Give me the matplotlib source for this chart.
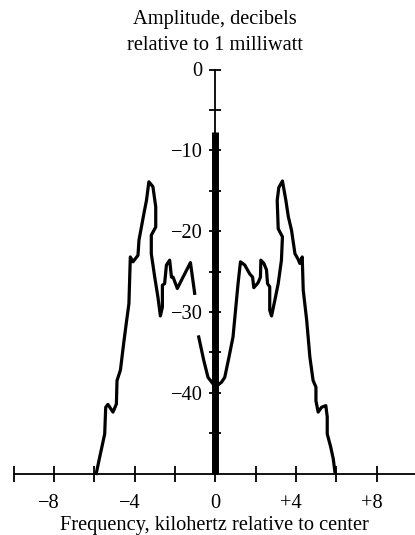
import matplotlib
matplotlib.use("Agg")
import matplotlib.pyplot as plt
import matplotlib.transforms as mtransforms

plt.rcParams['font.family'] = ['Liberation Serif', 'DejaVu Serif']

# Lower sideband (left), two segments
left_outer_x = [-5.90, -5.73, -5.48, -5.43, -5.32, -5.07, -4.90, -4.87, -4.70, -4.54, -4.41, -4.28,
                -4.24, -4.21, -4.08, -3.83, -3.78, -3.66, -3.55, -3.41, -3.29, -3.09, -2.95, -2.95,
                -3.17, -3.17, -3.00, -2.84, -2.72, -2.62, -2.62, -2.51, -2.42, -2.26, -2.17, -2.09,
                -1.88, -1.68, -1.23, -1.02]
left_outer_y = [-50.0, -48.0, -45.1, -41.8, -41.45, -42.4, -41.4, -38.5, -37.2, -33.9, -31.4, -29.0,
                -25.7, -23.2, -23.8, -23.0, -21.1, -19.5, -18.0, -16.2, -13.9, -14.5, -17.0, -19.5,
                -20.5, -22.8, -25.7, -28.2, -30.5, -29.4, -26.7, -26.5, -24.2, -23.6, -25.7, -25.7,
                -27.1, -26.1, -23.9, -27.7]
left_inner_x = [-0.82, -0.57, -0.36, -0.11, 0.0]
left_inner_y = [-33.1, -36.0, -38.1, -38.9, -39.5]

# Upper sideband (right)
right_x = [0.0, 0.31, 0.47, 0.68, 0.88, 1.02, 1.13, 1.25, 1.46, 1.71, 1.85, 1.91, 2.12, 2.24, 2.26,
           2.41, 2.54, 2.59, 2.70, 2.70, 2.79, 2.95, 3.12, 3.28, 3.33, 3.20, 3.12, 3.07, 3.15, 3.33,
           3.50, 3.62, 3.78, 3.95, 4.11, 4.19, 4.31, 4.36, 4.53, 4.69, 4.85, 4.99, 4.99, 5.10, 5.27,
           5.48, 5.55, 5.55, 5.72, 5.85, 5.93]
right_y = [-39.3, -38.7, -38.1, -35.6, -33.1, -29.4, -26.5, -23.8, -24.2, -25.3, -25.7, -27.0, -26.4,
           -25.7, -23.6, -24.0, -24.8, -26.5, -26.9, -29.8, -30.5, -28.6, -26.5, -23.6, -20.7, -20.1,
           -19.7, -16.2, -14.6, -13.8, -16.2, -18.2, -19.9, -22.8, -23.5, -24.0, -23.2, -27.3, -31.0,
           -35.6, -38.5, -39.3, -41.0, -42.4, -41.8, -41.6, -43.0, -45.1, -46.7, -48.2, -49.8]

# Carrier
carrier_x = [0.0, 0.0]
carrier_y = [-50.0, -7.7]

x_major = [-8, -4, 0, 4, 8]
x_major_labels = ['\u22128', '\u22124', '0', '+4', '+8']
x_minor = [-10, -6, -2, 2, 6]
y_major = [0, -10, -20, -30, -40]
y_major_labels = ['0', '\u221210', '\u221220', '\u221230', '\u221240']
y_minor = [-5, -15, -25, -35, -45]

fig = plt.figure(figsize=(4.15, 5.35), dpi=100)
ax = fig.add_axes([13.5 / 415, 61.5 / 535, 1 - 13.5 / 415, (473.5 - 69.5) / 535])
ax.set_xlim(-10, 9.9)
ax.set_ylim(-50, 0)

lw = 2.3
ax.plot(left_outer_x, left_outer_y, color='black', lw=lw, solid_joinstyle='round', clip_on=False)
ax.plot(left_inner_x, left_inner_y, color='black', lw=lw, solid_joinstyle='round', clip_on=False)
ax.plot(right_x, right_y, color='black', lw=lw, solid_joinstyle='round', clip_on=False)
ax.plot(carrier_x, carrier_y, color='black', lw=5.0, solid_capstyle='butt', clip_on=False)

for s in ['top', 'right']:
    ax.spines[s].set_visible(False)
ax.spines['left'].set_position(('data', 0))
ax.spines['left'].set_linewidth(1.3)
ax.spines['bottom'].set_linewidth(1.3)

fs = 14.7
ax.set_xticks(x_major)
ax.set_xticklabels(x_major_labels, fontsize=fs)
ax.set_xticks(x_minor, minor=True)
ax.set_yticks(y_major)
ax.set_yticklabels(y_major_labels, fontsize=fs)
ax.set_yticks(y_minor, minor=True)
ax.tick_params(axis='x', which='both', direction='inout', length=11.5, width=1.3, pad=9)
ax.tick_params(axis='y', which='both', direction='inout', length=9, width=1.3, pad=4.5)

# shift signed x labels so the digit sits on the tick
for lab, txt in zip(ax.get_xticklabels(), x_major_labels):
    if txt[0] in '\u2212+':
        lab.set_transform(lab.get_transform() + mtransforms.ScaledTranslation(-5 / 100, 0, fig.dpi_scale_trans))

ax.set_xlabel('Frequency, kilohertz relative to center', fontsize=fs, labelpad=2.5)

trans = mtransforms.blended_transform_factory(ax.transData, fig.transFigure)
ax.text(0, 1 - 24 / 535, 'Amplitude, decibels', transform=trans, ha='center', va='baseline', fontsize=fs)
ax.text(0, 1 - 49.5 / 535, 'relative to 1 milliwatt', transform=trans, ha='center', va='baseline', fontsize=fs)

fig.savefig('out.png', dpi=100)
